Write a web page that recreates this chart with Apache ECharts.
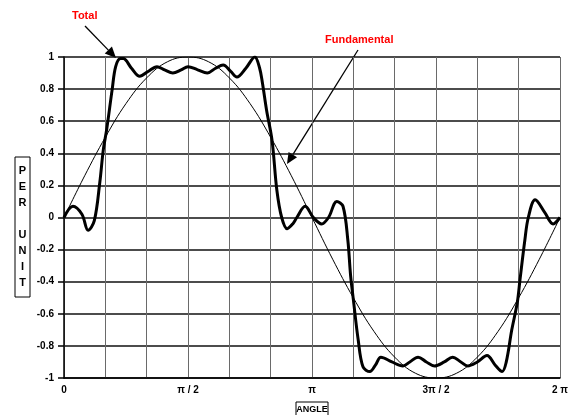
<!DOCTYPE html>
<html>
<head>
<meta charset="utf-8">
<script src="https://cdn.jsdelivr.net/npm/echarts@6/dist/echarts.min.js"></script>
<style>
html,body{margin:0;padding:0;background:#fff;}
#main{width:572px;height:415px;}
</style>
</head>
<body>
<div id="main"></div>
<script>
// angles in degrees, values in per unit
var fundAngle = [0,15,30,45,60,75,90,105,120,135,150,165,180,195,210,225,240,255,270,285,300,315,330,345,360];
var fundValue = [0,0.26,0.5,0.71,0.87,0.97,1,0.97,0.87,0.71,0.5,0.26,0,-0.26,-0.5,-0.71,-0.87,-0.97,-1,-0.97,-0.87,-0.71,-0.5,-0.26,0];

var totalAngle = [0,6.5,13,17.5,22,26,28.5,31,35,37.5,41,43,49,55,61,67.5,73,79,85,90,97,104,110,115.5,121,125.5,132,138.5,142,144,147,151,154.5,158,162,166,169,175,181,187,192,198,202.5,206,208,210,213.5,217,222,226,230,238,246,251,257,263,269,276,282,288,293,300,307,313,318,321,325,329,331,334.5,337,342,349,355,360];
var totalValue = [0,0.07,0.02,-0.08,-0.02,0.22,0.42,0.55,0.8,0.94,0.99,0.99,0.93,0.88,0.91,0.94,0.92,0.9,0.92,0.94,0.92,0.9,0.93,0.95,0.91,0.875,0.93,1,0.93,0.84,0.67,0.48,0.17,0,-0.07,-0.04,0,0.07,0,-0.04,0,0.1,0.07,-0.14,-0.36,-0.51,-0.76,-0.93,-0.96,-0.92,-0.87,-0.9,-0.925,-0.9,-0.87,-0.9,-0.925,-0.9,-0.87,-0.9,-0.925,-0.9,-0.86,-0.92,-0.96,-0.9,-0.7,-0.53,-0.385,-0.14,0,0.11,0.03,-0.04,0];

var xTickAngles = [0,90,180,270,360];
var xTickLabels = ['0','π / 2','π','3π / 2','2 π'];

function pairs(a,b){
	var out=[];
	for(var i=0;i<a.length;i++){ out.push([a[i],b[i]]); }
	return out;
}

// arrow as line + filled head, pixel coords
function arrow(x1,y1,x2,y2){
	var dx=x2-x1, dy=y2-y1, len=Math.sqrt(dx*dx+dy*dy);
	var ux=dx/len, uy=dy/len, hl=11, hw=5;
	var bx=x2-ux*hl, by=y2-uy*hl;
	return [{
		type:'line', silent:true,
		shape:{x1:x1,y1:y1,x2:bx,y2:by},
		style:{stroke:'#000',lineWidth:1.3}
	},{
		type:'polygon', silent:true,
		shape:{points:[[x2,y2],[bx-uy*hw,by+ux*hw],[bx+uy*hw,by-ux*hw]]},
		style:{fill:'#000'}
	}];
}

var chart = echarts.init(document.getElementById('main'));
var font = 'Liberation Sans, Arial, sans-serif';

var graphics = [
	{type:'text', left:72, top:10, style:{text:'Total', fill:'#f00', font:'bold 11px '+font}},
	{type:'text', left:325, top:34, style:{text:'Fundamental', fill:'#f00', font:'bold 11px '+font}},
	{type:'rect', shape:{x:15,y:157,width:15,height:140}, style:{fill:'#fff',stroke:'#000',lineWidth:1}},
	{type:'text', x:22.5, y:227, style:{text:'P\nE\nR\n\nU\nN\nI\nT', fill:'#000', font:'bold 11px '+font, align:'center', verticalAlign:'middle', lineHeight:16}},
	{type:'rect', shape:{x:296,y:402,width:32,height:16}, style:{fill:'#fff',stroke:'#000',lineWidth:1}},
	{type:'text', x:312, y:410, style:{text:'ANGLE', fill:'#000', font:'bold 9px '+font, align:'center', verticalAlign:'middle'}}
].concat(arrow(85,26,116,58)).concat(arrow(358,50,287,164));

var option = {
	animation:false,
	grid:{left:64, right:12, top:57, bottom:37},
	xAxis:{
		type:'value', min:0, max:360, interval:30,
		axisLine:{onZero:false, lineStyle:{color:'#000',width:1.5}},
		axisTick:{show:false},
		axisLabel:{
			color:'#000', fontSize:10, fontWeight:'bold', fontFamily:font, margin:7,
			showMaxLabel:true,
			formatter:function(v){
				var i=xTickAngles.indexOf(v);
				return i<0?'':xTickLabels[i];
			}
		},
		splitLine:{show:true, lineStyle:{color:'#6a6a6a', width:1}}
	},
	yAxis:{
		type:'value', min:-1, max:1, interval:0.2,
		axisLine:{show:true, lineStyle:{color:'#000',width:1.5}},
		axisTick:{show:true, length:6, lineStyle:{color:'#000',width:1.5}},
		axisLabel:{
			color:'#000', fontSize:10, fontWeight:'bold', fontFamily:font, margin:10,
			formatter:function(v){ return Math.abs(v)<1e-9 ? '0' : String(+v.toFixed(1)); }
		},
		splitLine:{show:true, lineStyle:{color:'#111', width:1.5}}
	},
	series:[{
		name:'Fundamental', type:'line', data:pairs(fundAngle,fundValue),
		smooth:0.4, showSymbol:false, lineStyle:{color:'#000', width:1}, z:3
	},{
		name:'Total', type:'line', data:pairs(totalAngle,totalValue),
		smooth:0.35, showSymbol:false, lineStyle:{color:'#000', width:3}, z:4
	}],
	graphic:graphics
};
chart.setOption(option);
</script>
</body>
</html>
